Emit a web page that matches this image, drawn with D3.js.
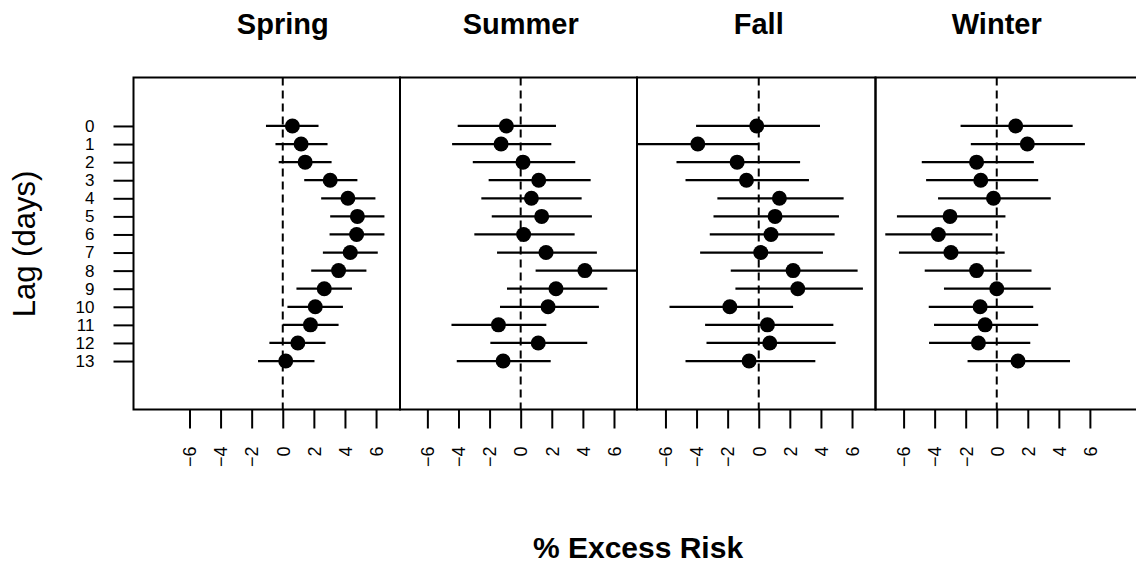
<!DOCTYPE html>
<html>
<head>
<meta charset="utf-8">
<script src="https://cdn.jsdelivr.net/npm/d3@7"></script>
<style>
  html, body { margin: 0; padding: 0; background: #fff; }
  svg { display: block; font-family: "Liberation Sans", Arial, sans-serif; }
</style>
</head>
<body>
<div id="chart"></div>
<script>
// ---------- data ----------
const seasons = ["Spring", "Summer", "Fall", "Winter"];
const lags = [0, 1, 2, 3, 4, 5, 6, 7, 8, 9, 10, 11, 12, 13];
const xTicks = [-6, -4, -2, 0, 2, 4, 6];

const springEst = [0.62, 1.18, 1.44, 3.05, 4.19, 4.80, 4.75, 4.34, 3.59, 2.67, 2.09, 1.78, 0.97, 0.19];
const springLo  = [-1.08, -0.47, -0.26, 1.38, 2.47, 3.05, 3.01, 2.58, 1.83, 0.88, 0.30, 0.00, -0.86, -1.59];
const springHi  = [2.30, 2.88, 3.14, 4.80, 5.96, 6.54, 6.54, 6.11, 5.38, 4.45, 3.87, 3.59, 2.75, 2.04];

const summerEst = [-0.92, -1.26, 0.15, 1.16, 0.69, 1.35, 0.19, 1.63, 4.13, 2.27, 1.76, -1.43, 1.13, -1.13];
const summerLo  = [-4.05, -4.41, -3.08, -2.06, -2.53, -1.86, -2.98, -1.52, 0.96, -0.88, -1.33, -4.45, -1.95, -4.11];
const summerHi  = [2.27, 1.97, 3.51, 4.50, 3.92, 4.58, 3.47, 4.90, 7.60, 5.57, 5.03, 1.65, 4.28, 1.93];

const fallEst = [-0.13, -3.92, -1.39, -0.79, 1.33, 1.05, 0.79, 0.13, 2.21, 2.51, -1.86, 0.56, 0.71, -0.62];
const fallLo  = [-4.03, -8.10, -5.29, -4.71, -2.66, -2.91, -3.15, -3.77, -1.80, -1.50, -5.74, -3.45, -3.36, -4.71];
const fallHi  = [3.94, 0.00, 2.66, 3.23, 5.46, 5.16, 4.88, 4.13, 6.36, 6.70, 2.21, 4.80, 4.95, 3.64];

const winterEst = [1.22, 1.97, -1.30, -1.03, -0.21, -3.01, -3.76, -2.95, -1.30, 0.00, -1.07, -0.75, -1.18, 1.37];
const winterLo  = [-2.33, -1.67, -4.83, -4.55, -3.78, -6.43, -7.18, -6.30, -4.64, -3.40, -4.38, -4.04, -4.36, -1.88];
const winterHi  = [4.89, 5.68, 2.39, 2.67, 3.48, 0.56, -0.28, 0.51, 2.24, 3.48, 2.35, 2.67, 2.16, 4.72];

const seriesEst = [springEst, summerEst, fallEst, winterEst];
const seriesLo  = [springLo, summerLo, fallLo, winterLo];
const seriesHi  = [springHi, summerHi, fallHi, winterHi];

// ---------- layout ----------
const W = 1136, H = 565;
const plotTop = 77.5, plotBottom = 409.5;
const panelLeft  = [133.5, 400, 637, 875.5];
const panelRight = [400, 637, 875.5, 1145];
const panelDomain = [[-9.6, 7.54], [-7.76, 7.48], [-7.83, 7.51], [-7.81, 9.55]];

const svg = d3.select("#chart").append("svg")
  .attr("width", W).attr("height", H);

const y = d3.scaleLinear().domain([-2.68, 15.68]).range([plotTop, plotBottom]);

seasons.forEach((s, i) => {
  const x = d3.scaleLinear().domain(panelDomain[i]).range([panelLeft[i], panelRight[i]]);
  const g = svg.append("g");
  const clipId = "clip" + i;
  svg.append("clipPath").attr("id", clipId)
    .append("rect")
    .attr("x", panelLeft[i]).attr("y", plotTop)
    .attr("width", panelRight[i] - panelLeft[i]).attr("height", plotBottom - plotTop);

  const plot = g.append("g").attr("clip-path", `url(#${clipId})`);

  // zero reference line
  plot.append("line")
    .attr("x1", x(0)).attr("x2", x(0))
    .attr("y1", plotTop).attr("y2", plotBottom)
    .attr("stroke", "#000").attr("stroke-width", 2)
    .attr("stroke-dasharray", "8,5");

  const rows = lags.map((l, j) => ({ lag: l, est: seriesEst[i][j], lo: seriesLo[i][j], hi: seriesHi[i][j] }));

  plot.selectAll("line.ci").data(rows).enter().append("line")
    .attr("class", "ci")
    .attr("x1", d => x(d.lo)).attr("x2", d => x(d.hi))
    .attr("y1", d => y(d.lag)).attr("y2", d => y(d.lag))
    .attr("stroke", "#000").attr("stroke-width", 2.2);

  plot.selectAll("circle").data(rows).enter().append("circle")
    .attr("cx", d => x(d.est)).attr("cy", d => y(d.lag))
    .attr("r", 7.5).attr("fill", "#000");

  // border
  g.append("rect")
    .attr("x", panelLeft[i]).attr("y", plotTop)
    .attr("width", panelRight[i] - panelLeft[i]).attr("height", plotBottom - plotTop)
    .attr("fill", "none").attr("stroke", "#000").attr("stroke-width", 2);

  // x axis
  const xa = g.append("g").attr("transform", `translate(0,${plotBottom})`)
    .call(d3.axisBottom(x).tickValues(xTicks).tickSize(19).tickPadding(0).tickFormat(d3.format("d")));
  xa.attr("font-family", null);
  xa.select(".domain").remove();
  xa.selectAll(".tick line").attr("stroke", "#000").attr("stroke-width", 2);
  xa.selectAll(".tick text")
    .attr("font-size", 18).attr("fill", "#000")
    .attr("transform", "rotate(-90)")
    .attr("x", -37).attr("y", 0).attr("dy", "0.35em")
    .attr("text-anchor", "end");

  // title
  svg.append("text")
    .attr("x", x(0)).attr("y", 34)
    .attr("text-anchor", "middle")
    .attr("font-size", 29).attr("font-weight", "bold")
    .text(s);

  if (i === 0) {
    const ya = g.append("g").attr("transform", `translate(${panelLeft[0]},0)`)
      .call(d3.axisLeft(y).tickValues(lags).tickSize(20).tickPadding(19));
    ya.attr("font-family", null);
    ya.select(".domain").remove();
    ya.selectAll(".tick line").attr("stroke", "#000").attr("stroke-width", 2);
    ya.selectAll(".tick text").attr("font-size", 17).attr("fill", "#000");
  }
});

// axis titles
svg.append("text")
  .attr("transform", "translate(35,244) rotate(-90)")
  .attr("text-anchor", "middle")
  .attr("font-size", 31)
  .text("Lag (days)");

svg.append("text")
  .attr("x", 638).attr("y", 558)
  .attr("text-anchor", "middle")
  .attr("font-size", 30).attr("font-weight", "bold")
  .text("% Excess Risk");
</script>
</body>
</html>
